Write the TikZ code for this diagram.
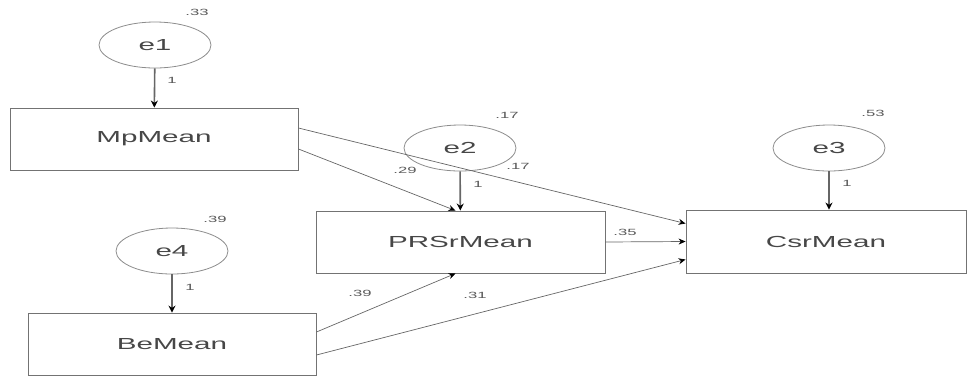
\documentclass[tikz,border=0pt]{standalone}
\usepackage{fontspec}
\setmainfont{Liberation Sans}
\newfontfamily\widesans[FakeStretch=1.85]{Liberation Sans}
\usetikzlibrary{arrows.meta,shapes.geometric}
\begin{document}
\begin{tikzpicture}[x=1pt,y=-1pt,
  obs/.style={draw=black!55,line width=0.9pt,minimum width=288pt,minimum height=62pt,inner sep=0pt,font=\widesans\fontsize{16}{18}\selectfont,text=black!72},
  err/.style={ellipse,draw=black!45,line width=0.8pt,minimum width=112pt,minimum height=46pt,inner sep=0pt,font=\widesans\fontsize{16}{18}\selectfont,text=black!72},
  lbl/.style={inner sep=0pt,font=\widesans\fontsize{9}{10}\selectfont,text=black!65},
  path/.style={draw=black!60,line width=0.7pt,-{Stealth[length=7pt,width=6pt,color=black]}},
  errpath/.style={draw=black!60,line width=1.6pt,-{Stealth[length=7pt,width=7pt,color=black]}}]
\useasboundingbox (0,0) rectangle (969,376);
% observed variables
\node[obs] (mp) at (154,139) {MpMean};
\node[obs,minimum width=289pt] (pr) at (460.5,242) {PRSrMean};
\node[obs,minimum width=280pt,minimum height=63pt] (csr) at (826,241.5) {CsrMean};
\node[obs] (be) at (172,344) {BeMean};
% error terms
\node[err] (e1) at (155,45) {e1};
\node[err] (e2) at (460,148) {e2};
\node[err] (e3) at (829,148) {e3};
\node[err] (e4) at (172,251) {e4};
% variances
\node[lbl] (v1) at (197,12) {.33};
\node[lbl] (v2) at (507,115) {.17};
\node[lbl] (v3) at (873,113) {.53};
\node[lbl] (v4) at (215,219) {.39};
% error paths
\draw[errpath] (e1) -- (mp);
\draw[errpath] (e2) -- (pr);
\draw[errpath] (e3) -- (csr.north -| e3.south);
\draw[errpath] (e4) -- (be);
\node[lbl] (w1) at (172,80) {1};
\node[lbl] (w2) at (478,184) {1};
\node[lbl] (w3) at (847,183) {1};
\node[lbl] (w4) at (190,287) {1};
% structural paths
\coordinate (mpA) at ([yshift=11pt]mp.east);
\coordinate (mpB) at ([yshift=-10pt]mp.east);
\coordinate (beA) at ([yshift=12pt]be.east);
\coordinate (beB) at ([yshift=-11pt]be.east);
\coordinate (csrA) at ([yshift=18pt]csr.west);
\coordinate (csrC) at ([yshift=-18pt]csr.west);
\coordinate (prT) at ([xshift=-5pt]pr.north);
\coordinate (prB) at ([xshift=-5pt]pr.south);
\draw[path] (mpB) -- (prT);
\draw[path] (mpA) -- (csrA);
\draw[path] (pr.east) -- (csr.west);
\draw[path] (beA) -- (prB);
\draw[path] (beB) -- (csrC);
% coefficients
\node[lbl] (c1) at (405,170) {.29};
\node[lbl] (c2) at (518,166) {.17};
\node[lbl] (c3) at (625,232) {.35};
\node[lbl] (c4) at (360,293) {.39};
\node[lbl] (c5) at (475,295) {.31};
\end{tikzpicture}
\end{document}
